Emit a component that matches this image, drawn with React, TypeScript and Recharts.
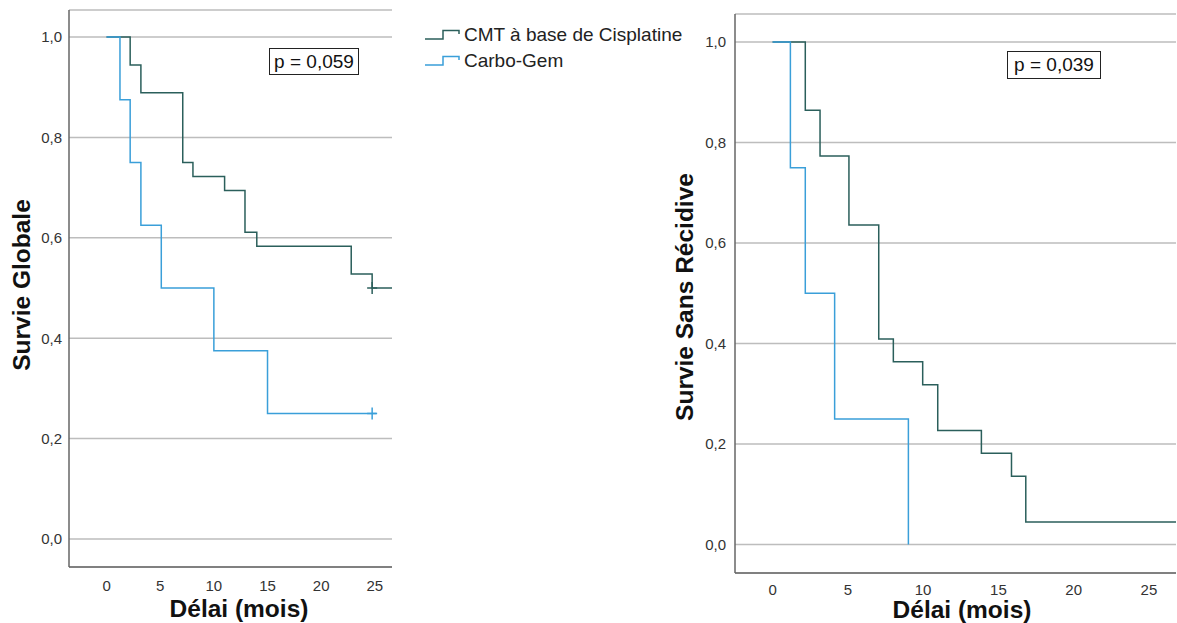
import React from 'react'
import {
  ComposedChart, Line, Scatter, XAxis, YAxis, CartesianGrid,
} from 'recharts'

const CMT_COLOR = '#2b5f5b'
const CARBO_COLOR = '#3a9fd9'
const FONT = '"Liberation Sans", Arial, sans-serif'

// Survie globale
const OS_CMT_TIMES = [0, 2.2, 3.2, 7.1, 8.05, 11.0, 12.9, 14.0, 22.8, 24.75, 26.6]
const OS_CMT_SURV = [1, 0.944, 0.889, 0.75, 0.722, 0.694, 0.611, 0.583, 0.528, 0.5, 0.5]
const OS_CARBO_TIMES = [0, 1.25, 2.2, 3.2, 5.1, 10.0, 15.0, 25.15]
const OS_CARBO_SURV = [1, 0.875, 0.75, 0.625, 0.5, 0.375, 0.25, 0.25]
const OS_CMT_CENSOR = [{ t: 24.75, s: 0.5 }]
const OS_CARBO_CENSOR = [{ t: 24.75, s: 0.25 }]

// Survie sans récidive
const DFS_CMT_TIMES = [0, 2.17, 3.15, 5.07, 7.05, 8.02, 9.97, 10.97, 13.87, 15.87, 16.82, 26.8]
const DFS_CMT_SURV = [1, 0.864, 0.773, 0.636, 0.409, 0.364, 0.318, 0.227, 0.182, 0.136, 0.045, 0.045]
const DFS_CARBO_TIMES = [0, 1.18, 2.17, 4.12, 9.02]
const DFS_CARBO_SURV = [1, 0.75, 0.5, 0.25, 0]

const X_TICKS = [0, 5, 10, 15, 20, 25]
const Y_TICKS = [0, 0.2, 0.4, 0.6, 0.8, 1.0]
const SERIES_NAMES = ['CMT à base de Cisplatine', 'Carbo-Gem']

const zip = (times: number[], surv: number[]) => times.map((t, i) => ({ t, s: surv[i] }))
const fmt = (v: number) => v.toFixed(1).replace('.', ',')

const CensorMark = (props: any) => {
  const { cx, cy, fill } = props
  return (
    <g>
      <line x1={cx} x2={cx} y1={cy - 6} y2={cy + 6} stroke={fill} strokeWidth={1.5} />
      <line x1={cx - 5} x2={cx + 5} y1={cy} y2={cy} stroke={fill} strokeWidth={1.5} />
    </g>
  )
}

interface KMProps {
  width: number
  height: number
  margin: { top: number; right: number; bottom: number; left: number }
  yAxisWidth: number
  xAxisHeight: number
  xDomain: [number, number]
  yDomain: [number, number]
  yTickMargin: number
  xTickMargin: number
  cmt: { t: number; s: number }[]
  carbo: { t: number; s: number }[]
  cmtCensor: { t: number; s: number }[]
  carboCensor: { t: number; s: number }[]
}

function KMChart(p: KMProps) {
  const tick = { fontSize: 15, fill: '#333', fontFamily: FONT }
  return (
    <ComposedChart width={p.width} height={p.height} margin={p.margin}>
      <CartesianGrid horizontal vertical={false} stroke="#bdbdbd" strokeWidth={1.5} />
      <XAxis
        type="number" dataKey="t" domain={p.xDomain} ticks={X_TICKS} allowDataOverflow
        height={p.xAxisHeight} tickLine={false} tickSize={0} tickMargin={p.xTickMargin}
        axisLine={{ stroke: '#666', strokeWidth: 1.5 }} tick={tick}
      />
      <YAxis
        type="number" domain={p.yDomain} ticks={Y_TICKS} allowDataOverflow
        width={p.yAxisWidth} tickLine={false} tickSize={0} tickMargin={p.yTickMargin}
        axisLine={{ stroke: '#666', strokeWidth: 1.5 }} tick={tick} tickFormatter={fmt}
      />
      <Line data={p.cmt} dataKey="s" type="stepAfter" stroke={CMT_COLOR} strokeWidth={1.5}
        dot={false} isAnimationActive={false} />
      <Line data={p.carbo} dataKey="s" type="stepAfter" stroke={CARBO_COLOR} strokeWidth={1.5}
        dot={false} isAnimationActive={false} />
      {p.cmtCensor.length > 0 && (
        <Scatter data={p.cmtCensor} dataKey="s" fill={CMT_COLOR} shape={CensorMark} isAnimationActive={false} />
      )}
      {p.carboCensor.length > 0 && (
        <Scatter data={p.carboCensor} dataKey="s" fill={CARBO_COLOR} shape={CensorMark} isAnimationActive={false} />
      )}
    </ComposedChart>
  )
}

const abs = (left: number, top: number): React.CSSProperties => ({ position: 'absolute', left, top })

const titleStyle: React.CSSProperties = {
  fontFamily: FONT, fontWeight: 'bold', fontSize: 24.5, color: '#111', whiteSpace: 'nowrap',
}

function YTitle({ text, cx, cy }: { text: string; cx: number; cy: number }) {
  return (
    <div style={{ ...abs(cx, cy), ...titleStyle, transform: 'translate(-50%, -50%) rotate(-90deg)' }}>
      {text}
    </div>
  )
}

function XTitle({ text, cx, cy }: { text: string; cx: number; cy: number }) {
  return (
    <div style={{ ...abs(cx, cy), ...titleStyle, transform: 'translate(-50%, -50%)' }}>{text}</div>
  )
}

function PBox({ text, left, top, w, h }: { text: string; left: number; top: number; w: number; h: number }) {
  return (
    <div style={{
      ...abs(left, top), width: w, height: h, boxSizing: 'border-box', border: '1.5px solid #222',
      fontFamily: FONT, fontSize: 19, color: '#111', display: 'flex', alignItems: 'center',
      justifyContent: 'center', background: '#fff',
    }}>{text}</div>
  )
}

function LegendIcon({ color }: { color: string }) {
  return (
    <svg width={36} height={12} style={{ marginRight: 3 }}>
      <path d="M0,10 H18 V1.5 H34 V5" fill="none" stroke={color} strokeWidth={1.5} />
    </svg>
  )
}

export default function App() {
  return (
    <div style={{ position: 'absolute', left: 0, top: 0, width: 1177, height: 623, background: '#fff', overflow: 'hidden' }}>
      <div style={abs(0, 0)}>
        <KMChart
          width={400} height={623}
          margin={{ top: 10, right: 8, bottom: 0, left: 0 }}
          yAxisWidth={69} xAxisHeight={56}
          xDomain={[-3.5, 26.6]} yDomain={[-0.0558, 1.0538]}
          yTickMargin={7} xTickMargin={13}
          cmt={zip(OS_CMT_TIMES, OS_CMT_SURV)}
          carbo={zip(OS_CARBO_TIMES, OS_CARBO_SURV)}
          cmtCensor={OS_CMT_CENSOR} carboCensor={OS_CARBO_CENSOR}
        />
      </div>
      <div style={abs(660, 0)}>
        <KMChart
          width={517} height={623}
          margin={{ top: 14, right: 1, bottom: 0, left: 0 }}
          yAxisWidth={75} xAxisHeight={50}
          xDomain={[-2.5, 26.8]} yDomain={[-0.0565, 1.0557]}
          yTickMargin={9} xTickMargin={11}
          cmt={zip(DFS_CMT_TIMES, DFS_CMT_SURV)}
          carbo={zip(DFS_CARBO_TIMES, DFS_CARBO_SURV)}
          cmtCensor={[]} carboCensor={[]}
        />
      </div>

      <YTitle text="Survie Globale" cx={22} cy={285} />
      <XTitle text="Délai (mois)" cx={239} cy={609} />
      <YTitle text="Survie Sans Récidive" cx={685} cy={297} />
      <XTitle text="Délai (mois)" cx={962} cy={610} />

      <PBox text="p = 0,059" left={269} top={48} w={90} h={27} />
      <PBox text="p = 0,039" left={1007} top={51} w={94} h={28} />

      <div style={{ ...abs(425, 22), fontFamily: FONT, fontSize: 19, color: '#222', lineHeight: '26px' }}>
        {SERIES_NAMES.map((name, i) => (
          <div key={name} style={{ display: 'flex', alignItems: 'center' }}>
            <LegendIcon color={i === 0 ? CMT_COLOR : CARBO_COLOR} />
            {name}
          </div>
        ))}
      </div>
    </div>
  )
}
